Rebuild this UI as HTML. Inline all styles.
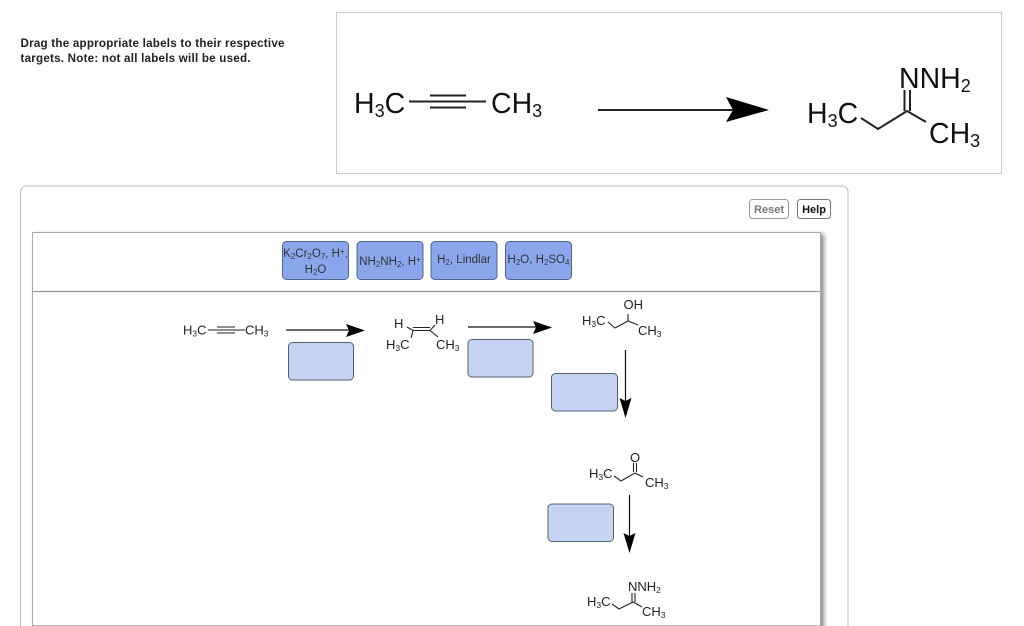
<!DOCTYPE html>
<html><head><meta charset="utf-8"><style>
html,body{margin:0;padding:0;background:#fff;width:1024px;height:626px;overflow:hidden}
svg{display:block;font-family:"Liberation Sans",sans-serif}
.k{fill:#111}.l{stroke:#222;fill:none}
.t{fill:#333;text-anchor:middle}
</style></head><body>
<svg width="1024" height="626" viewBox="0 0 1024 626" xmlns="http://www.w3.org/2000/svg">
<defs><filter id="s" x="-5%" y="-5%" width="110%" height="110%"><feDropShadow dx="3" dy="2" stdDeviation="2" flood-color="#000" flood-opacity=".45"/></filter></defs>
<text x="20.5" y="47" font-size="11.6" font-weight="bold" fill="#222" textLength="264">Drag the appropriate labels to their respective</text>
<text x="20.5" y="62" font-size="11.6" font-weight="bold" fill="#222" textLength="230">targets. Note: not all labels will be used.</text>
<rect x="336.5" y="12.5" width="665" height="161" fill="#fff" stroke="#ccc"/>

<!-- top reaction -->
<g class="k" font-size="28.500">
<text x="354" y="113">H<tspan font-size="18" dy="4">3</tspan><tspan dy="-4">C</tspan></text>
<text x="491" y="113">CH<tspan font-size="18" dy="4">3</tspan></text>
<text x="807" y="123">H<tspan font-size="18" dy="4">3</tspan><tspan dy="-4">C</tspan></text>
<text x="899" y="88">NNH<tspan font-size="18" dy="4">2</tspan></text>
<text x="929" y="143">CH<tspan font-size="18" dy="4">3</tspan></text>
</g>
<g class="l" stroke-width="2">
<path d="M409 101.500H486M430 95.500H466M430 107.500H466"/>
<path d="M861 118L878 129L907 111L926 122M904.500 90V111M910 90V111"/>
<path d="M598 110H735"/>
</g>
<path d="M726 97L769 110L726 122L733 110Z" fill="#000"/>

<!-- outer panel -->
<path d="M20.500 640V192a6 6 0 0 1 6-6H842a6 6 0 0 1 6 6V640" fill="#fff" stroke="#bbb"/>
<rect x="32.500" y="232.500" width="788" height="420" fill="#fff" stroke="#aaa" filter="url(#s)"/>
<path d="M33 291.500H820" stroke="#999" stroke-width="1.300"/>
<path d="M33 625.500H820" stroke="#bbb"/>

<!-- buttons -->
<rect x="749.500" y="199.500" width="39" height="19" rx="3" fill="#fff" stroke="#999"/>
<text x="769" y="213" font-size="11" font-weight="bold" fill="#777" text-anchor="middle">Reset</text>
<rect x="797.500" y="199.500" width="33" height="19" rx="3" fill="#fff" stroke="#777"/>
<text x="814" y="213" font-size="11" font-weight="bold" fill="#111" text-anchor="middle">Help</text>

<!-- labels -->
<g fill="#8aa7ee" stroke="#4f6487">
<rect x="282.500" y="241.500" width="66" height="38" rx="4"/>
<rect x="357" y="241.500" width="66" height="38" rx="4"/>
<rect x="431" y="241.500" width="66" height="38" rx="4"/>
<rect x="505.500" y="241.500" width="66" height="38" rx="4"/>
</g>
<g class="t" font-size="11.500">
<text x="315.500" y="257">K<tspan font-size="8" dy="2">2</tspan><tspan dy="-2">Cr</tspan><tspan font-size="8" dy="2">2</tspan><tspan dy="-2">O</tspan><tspan font-size="8" dy="2">7</tspan><tspan dy="-2">, H</tspan><tspan font-size="8" dy="-3">+</tspan><tspan dy="3">,</tspan></text>
<text x="315.500" y="273">H<tspan font-size="8" dy="2">2</tspan><tspan dy="-2">O</tspan></text>
<text x="390" y="265">NH<tspan font-size="8" dy="2">2</tspan><tspan dy="-2">NH</tspan><tspan font-size="8" dy="2">2</tspan><tspan dy="-2">, H</tspan><tspan font-size="8" dy="-3">+</tspan></text>
<text x="464" y="263">H<tspan font-size="8" dy="2">2</tspan><tspan dy="-2">, Lindlar</tspan></text>
<text x="538.500" y="263">H<tspan font-size="8" dy="2">2</tspan><tspan dy="-2">O, H</tspan><tspan font-size="8" dy="2">2</tspan><tspan dy="-2">SO</tspan><tspan font-size="8" dy="2">4</tspan></text>
</g>

<!-- targets -->
<g fill="#c6d4f4" stroke="#55606f">
<rect x="288.500" y="342.500" width="65" height="37.500" rx="4"/>
<rect x="468" y="339.500" width="65" height="37.500" rx="4"/>
<rect x="551.500" y="373.500" width="66" height="37.500" rx="4"/>
<rect x="548" y="504" width="65.500" height="37.500" rx="4"/>
</g>

<!-- molecules -->
<g fill="#222" font-size="13">
<text x="183" y="334.500">H<tspan font-size="8.500" dy="2">3</tspan><tspan dy="-2">C</tspan></text>
<text x="245" y="334.500">CH<tspan font-size="8.500" dy="2">3</tspan></text>
<text x="394" y="328">H</text><text x="435" y="324">H</text>
<text x="386" y="349">H<tspan font-size="8.500" dy="2">3</tspan><tspan dy="-2">C</tspan></text>
<text x="436" y="349">CH<tspan font-size="8.500" dy="2">3</tspan></text>
<text x="582" y="325">H<tspan font-size="8.500" dy="2">3</tspan><tspan dy="-2">C</tspan></text>
<text x="623.500" y="309">OH</text>
<text x="638" y="335">CH<tspan font-size="8.500" dy="2">3</tspan></text>
<text x="589" y="478">H<tspan font-size="8.500" dy="2">3</tspan><tspan dy="-2">C</tspan></text>
<text x="630" y="462">O</text>
<text x="645" y="487">CH<tspan font-size="8.500" dy="2">3</tspan></text>
<text x="587" y="606">H<tspan font-size="8.500" dy="2">3</tspan><tspan dy="-2">C</tspan></text>
<text x="628" y="591">NNH<tspan font-size="8.500" dy="2">2</tspan></text>
<text x="642" y="616">CH<tspan font-size="8.500" dy="2">3</tspan></text>
</g>
<g class="l" stroke-width="1.100" stroke="#333">
<path d="M208 330H245M217 327H235M217 333H235"/>
<path d="M407 327L413 330.500H430L435 325M413 327.500H430M413 330.500L411 338M430 330.500L438 337"/>
<path d="M608 322L615 328L628 321L638 325M628 321V314"/>
<path d="M614 476L621 481L635 473L643 477M633.500 472V463M636.500 472V463"/>
<path d="M612 604L619 609L633 602L642 607M632 602V593M635 602V593"/>
</g>

<!-- arrows -->
<g stroke="#111" stroke-width="1.200" fill="none">
<path d="M286 330H350M468 327H538M625.500 350V402M629.500 495V538"/>
</g>
<g fill="#000">
<path d="M346 324L365 330.500L346 337L349 330.500Z"/>
<path d="M533 321L552 327.500L533 334L536 327.500Z"/>
<path d="M619.500 398L625.500 418L631.500 398L625.500 401Z"/>
<path d="M623.500 533L629.500 553L635.500 533L629.500 536Z"/>
</g>
</svg>
</body></html>
